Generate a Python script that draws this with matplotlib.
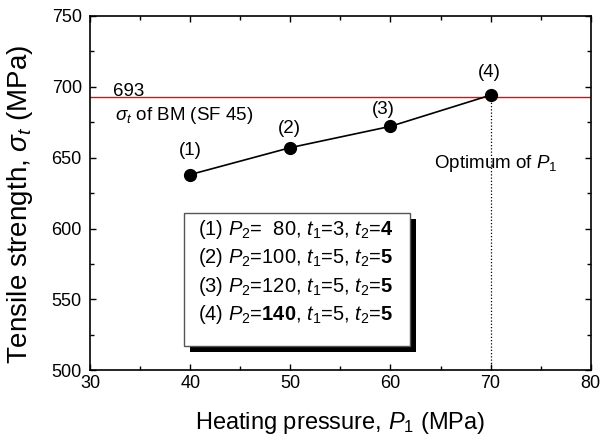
import matplotlib
matplotlib.use("Agg")
import matplotlib.pyplot as plt
from matplotlib.patches import Rectangle
from matplotlib.ticker import MultipleLocator

plt.rcParams['font.family'] = ['Liberation Sans', 'DejaVu Sans']
plt.rcParams['mathtext.fontset'] = 'custom'
plt.rcParams['mathtext.rm'] = 'Liberation Sans'
plt.rcParams['mathtext.it'] = 'Liberation Sans:italic'
plt.rcParams['mathtext.bf'] = 'Liberation Sans:bold'

# data
p1 = [40, 50, 60, 70]
strength = [638, 657, 672, 694]
point_labels = ['(1)', '(2)', '(3)', '(4)']
bm_strength = 693
optimum_p1 = 70
legend_lines = [
    r'(1) $P_2$=  80, $t_{\mathit{1}}$=3, $t_2$=$\mathbf{4}$',
    r'(2) $P_2$=100, $t_{\mathit{1}}$=5, $t_2$=$\mathbf{5}$',
    r'(3) $P_2$=120, $t_{\mathit{1}}$=5, $t_2$=$\mathbf{5}$',
    r'(4) $P_2$=$\mathbf{140}$, $t_{\mathit{1}}$=5, $t_2$=$\mathbf{5}$',
]

# label offsets (points)
label_offsets = [(0, 17), (-0.5, 14), (-5.5, 12), (-1, 16)]

fig = plt.figure(figsize=(6.13, 4.42), dpi=100)
ax = fig.add_axes([0.147, 0.162, 0.8166, 0.8025])

ax.set_xlim(30, 80)
ax.set_ylim(500, 750)

ax.axhline(bm_strength, color='red', lw=1.0, zorder=2)
ax.plot([optimum_p1, optimum_p1], [500, strength[-1]], color='black', lw=0.9,
        ls=(0, (1.0, 1.6)), zorder=2)
ax.plot(p1, strength, color='black', lw=1.2, marker='o', markersize=8.5, zorder=3)

for x, y, lab, off in zip(p1, strength, point_labels, label_offsets):
    ax.annotate(lab, (x, y), xytext=off, textcoords='offset points',
                ha='center', va='center', fontsize=13.5)

ax.text(32.3, 693.4, '693', fontsize=13.5, ha='left', va='baseline')
ax.text(32.5, 676.5, r'$\sigma_t$ of BM (SF 45)', fontsize=13.5, ha='left', va='baseline')
ax.text(64.3, 643, r'Optimum of $P_{\mathit{1}}$', fontsize=13.5, ha='left', va='baseline')

# box with shadow
bx0, bx1, by0, by1 = 39.33, 62.0, 517.3, 610.8
ax.add_patch(Rectangle((bx0 + 0.6, by0 - 4.3), bx1 - bx0, by1 - by0,
                       facecolor='black', edgecolor='black', lw=0, zorder=4))
ax.add_patch(Rectangle((bx0, by0), bx1 - bx0, by1 - by0,
                       facecolor='white', edgecolor='#555555', lw=1.0, zorder=5))
ys = [595.3, 575.4, 555.4, 535.4]
for yv, t in zip(ys, legend_lines):
    ax.text(40.8, yv, t, fontsize=14.5, ha='left', va='baseline', zorder=6)

ax.xaxis.set_major_locator(MultipleLocator(10))
ax.xaxis.set_minor_locator(MultipleLocator(5))
ax.yaxis.set_major_locator(MultipleLocator(50))
ax.yaxis.set_minor_locator(MultipleLocator(25))
ax.tick_params(which='both', direction='in', top=True, right=True, width=1.0)
ax.tick_params(which='major', length=4.5, labelsize=13)
ax.tick_params(which='minor', length=3)
ax.tick_params(axis='x', pad=3)
ax.tick_params(axis='y', pad=6)
for s in ax.spines.values():
    s.set_linewidth(1.2)

ax.set_xlabel(r'Heating pressure, $P_{\mathit{1}}$ (MPa)', fontsize=17, labelpad=13)
ax.set_ylabel(r'Tensile strength, $\sigma_t$ (MPa)', fontsize=20)
ax.yaxis.set_label_coords(-0.11, 0.469)

fig.savefig('out.png', dpi=100)
